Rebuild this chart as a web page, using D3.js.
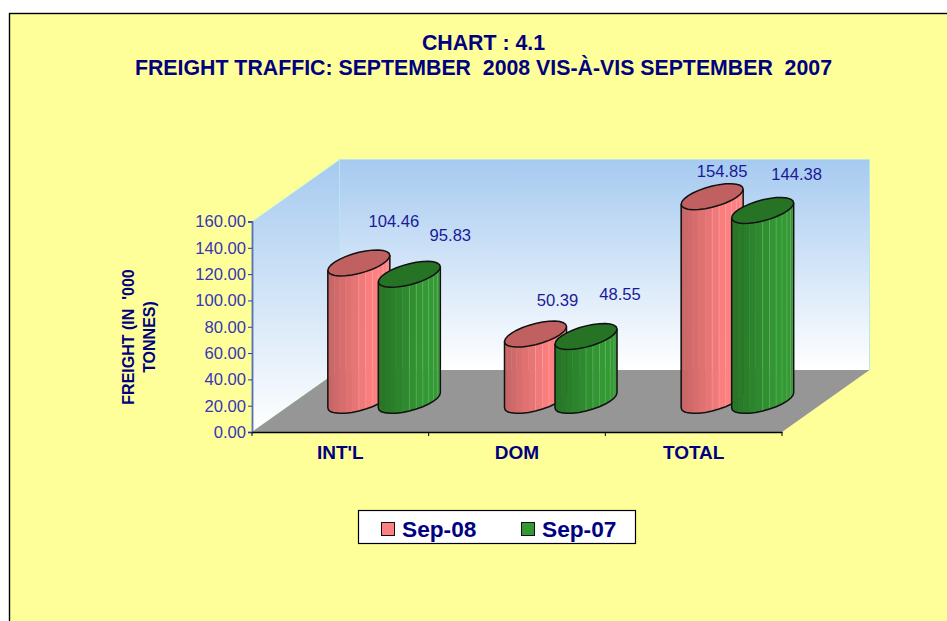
<!DOCTYPE html>
<html>
<head>
<meta charset="utf-8">
<script src="https://cdn.jsdelivr.net/npm/d3@7"></script>
<style>
  html, body { margin: 0; padding: 0; background: #fff; }
  svg { display: block; }
  text { font-family: "Liberation Sans", Arial, sans-serif; fill: #000080; white-space: pre; }
</style>
</head>
<body>
<div id="chart"></div>
<script>
//chart data
var categories = ["INT'L", "DOM", "TOTAL"];
var seriesNames = ["Sep-08", "Sep-07"];
var sep08 = [104.46, 50.39, 154.85];
var sep07 = [95.83, 48.55, 144.38];
var yTicks = [0, 20, 40, 60, 80, 100, 120, 140, 160];
var titleLines = ["CHART : 4.1", "FREIGHT TRAFFIC: SEPTEMBER  2008 VIS-\u00c0-VIS SEPTEMBER  2007"];
var yTitleLines = ["FREIGHT (IN  '000", "TONNES)"];

var svgWidth = 947;
var svgHeight = 621;

//front plane of the 3d box and how far the back wall is shifted from it
var plot = { left: 252, right: 782, top: 221.5, bottom: 432 };
var depth = { x: 87.5, y: -62 };

var svg = d3.select("#chart")
  .append("svg")
  .attr("width", svgWidth)
  .attr("height", svgHeight);

//chart area background
svg.append("rect")
  .attr("x", 9.5)
  .attr("y", 13.5)
  .attr("width", svgWidth)
  .attr("height", svgHeight)
  .attr("fill", "#ffff99")
  .attr("stroke", "#000")
  .attr("stroke-width", 1.4);

//scales
var xScale = d3.scaleBand()
  .domain(categories)
  .range([plot.left, plot.right]);

var yScale = d3.scaleLinear()
  .domain([0, 160])
  .range([plot.bottom, plot.top]);

var seriesScale = d3.scaleBand()
  .domain(seriesNames)
  .range([-50.5, 50.5]);

//gradients
var defs = svg.append("defs");

var wallGrad = defs.append("linearGradient")
  .attr("id", "wallGrad")
  .attr("x1", 0).attr("y1", 0)
  .attr("x2", 0).attr("y2", 1);
wallGrad.append("stop").attr("offset", "0%").attr("stop-color", "#a6caf0");
wallGrad.append("stop").attr("offset", "100%").attr("stop-color", "#ffffff");

//walls and floor
var backLeft = plot.left + depth.x;
var backRight = plot.right + depth.x;
var backTop = plot.top + depth.y;
var backBottom = plot.bottom + depth.y;

svg.append("polygon")
  .attr("points", [[plot.left, plot.top], [backLeft, backTop], [backLeft, backBottom], [plot.left, plot.bottom]].join(" "))
  .attr("fill", "url(#wallGrad)")
  .attr("stroke", "#ccffcc");

svg.append("rect")
  .attr("x", backLeft)
  .attr("y", backTop)
  .attr("width", backRight - backLeft)
  .attr("height", backBottom - backTop)
  .attr("fill", "url(#wallGrad)");

//top edge of the back wall is a bit bluer
svg.append("path")
  .attr("d", `M${backLeft},${backBottom}V${backTop}H${backRight}V${backBottom}`)
  .attr("fill", "none")
  .attr("stroke", "#b8e6f0");

svg.append("polygon")
  .attr("points", [[plot.left, plot.bottom], [plot.right, plot.bottom], [backRight, backBottom], [backLeft, backBottom]].join(" "))
  .attr("fill", "#969696");

//axes
var leftAxis = d3.axisLeft(yScale)
  .tickValues(yTicks)
  .tickFormat(d3.format(".2f"))
  .tickSize(4)
  .tickPadding(2);

var yAxisGroup = svg.append("g")
  .attr("transform", `translate(${plot.left}, 0)`)
  .call(leftAxis);

yAxisGroup.selectAll("line").attr("stroke", "#3333aa");
yAxisGroup.select("path").attr("stroke", "#5a6fb0").attr("stroke-width", 1.8);
yAxisGroup.selectAll("text")
  .attr("font-size", 16.6)
  .style("font-family", '"Liberation Sans", Arial, sans-serif')
  .style("fill", "#3636b8");

var bottomAxis = d3.axisBottom(xScale)
  .tickSize(0)
  .tickPadding(14);

var xAxisGroup = svg.append("g")
  .attr("transform", `translate(0, ${plot.bottom})`)
  .call(bottomAxis);

xAxisGroup.select("path").attr("stroke", "#000").attr("stroke-width", 1.3);
xAxisGroup.selectAll("text")
  .attr("font-size", 19)
  .attr("font-weight", "bold")
  .style("font-family", '"Liberation Sans", Arial, sans-serif')
  .style("fill", "#000080");

//category separators on the bottom axis
var xEdges = [plot.left].concat(categories.map(d => xScale(d) + xScale.bandwidth()));
svg.selectAll(".xEdge")
  .data(xEdges)
  .enter()
  .append("line")
  .attr("class", "xEdge")
  .attr("x1", d => d)
  .attr("x2", d => d)
  .attr("y1", plot.bottom)
  .attr("y2", plot.bottom + 4)
  .attr("stroke", "#000");

//cylinder drawing: the ends are circles lying on the skewed floor
var radiusX = 31;
var radiusY = 13;
var skew = 0.615;
var facets = 14;

function rimPoint(t, cx, cy) {
  return [cx + radiusX * Math.cos(t), cy - radiusY * Math.sin(t + skew)];
}

//front half of the rim runs from the left extreme (t = PI) to the right extreme (t = 2 PI)
function frontAngle(i) {
  return Math.PI + Math.PI * i / facets;
}

var barColors = [
  { dark: "#c46464", light: "#ff8080", top: "#c06060" },
  { dark: "#267326", light: "#339933", top: "#267326" }
];

var lineGen = d3.line();

function drawCylinder(g, cx, value, colors) {
  var baseY = plot.bottom + depth.y * 0.51;
  var topY = baseY - (plot.bottom - yScale(value));
  var shade = d3.scaleLinear()
    .domain([-radiusX, radiusX * 0.45, radiusX])
    .range([colors.dark, colors.light, colors.light]);

  //side facets, left to right
  d3.range(facets).forEach(function(i) {
    var a = rimPoint(frontAngle(i), cx, topY);
    var b = rimPoint(frontAngle(i + 1), cx, topY);
    var c = rimPoint(frontAngle(i + 1), cx, baseY);
    var d = rimPoint(frontAngle(i), cx, baseY);
    g.append("path")
      .attr("d", lineGen([a, b, c, d]) + "Z")
      .attr("fill", shade((a[0] + b[0]) / 2 - cx))
      .attr("stroke", shade((a[0] + b[0]) / 2 - cx))
      .attr("stroke-width", 0.5);
    //faint seam between facets on the lit side
    if (i >= facets / 2) {
      g.append("path")
        .attr("d", lineGen([a, d]))
        .attr("stroke", "#fff")
        .attr("stroke-opacity", 0.18)
        .attr("stroke-width", 1);
    }
  });

  //outline of the side
  var topFront = d3.range(facets + 1).map(i => rimPoint(frontAngle(i), cx, topY));
  var baseFront = d3.range(facets + 1).map(i => rimPoint(frontAngle(i), cx, baseY));
  g.append("path")
    .attr("d", lineGen(baseFront) + `M${topFront[0]}L${baseFront[0]}M${topFront[facets]}L${baseFront[facets]}`)
    .attr("fill", "none")
    .attr("stroke", "#111")
    .attr("stroke-width", 1.5);

  //top end
  var rim = d3.range(facets * 2).map(i => rimPoint(Math.PI * i / facets, cx, topY));
  g.append("path")
    .attr("d", lineGen(rim) + "Z")
    .attr("fill", colors.top)
    .attr("stroke", "#111")
    .attr("stroke-width", 1.5);
}

//bars go from the back of the chart to the front, red before green in each group
var barsGroup = svg.append("g");
categories.forEach(function(cat, i) {
  var center = xScale(cat) + xScale.bandwidth() / 2 + depth.x / 2;
  [sep08, sep07].forEach(function(values, s) {
    var cx = center + seriesScale(seriesNames[s]) + seriesScale.bandwidth() / 2;
    drawCylinder(barsGroup, cx, values[i], barColors[s]);
  });
});

//data labels were dragged by hand in the original, so each one has its own nudge
var labelNudge = [
  [[4, -36.5], [10, -34]],
  [[-9, -29], [3, -37]],
  [[-21, -20], [3, -31]]
];

categories.forEach(function(cat, i) {
  var center = xScale(cat) + xScale.bandwidth() / 2 + depth.x / 2;
  [sep08, sep07].forEach(function(values, s) {
    var cx = center + seriesScale(seriesNames[s]) + seriesScale.bandwidth() / 2;
    var topY = yScale(values[i]) + depth.y / 2;
    svg.append("text")
      .attr("x", cx + labelNudge[i][s][0] + 31)
      .attr("y", topY + labelNudge[i][s][1])
      .attr("text-anchor", "middle")
      .attr("font-size", 16.6)
      .style("fill", "#1a1a99")
      .text(d3.format(".2f")(values[i]));
  });
});

//titles
svg.selectAll(".title")
  .data(titleLines)
  .enter()
  .append("text")
  .attr("class", "title")
  .attr("x", 483.5)
  .attr("y", (d, i) => 50 + i * 25)
  .attr("text-anchor", "middle")
  .attr("font-size", 21.3)
  .attr("font-weight", "bold")
  .text(d => d);

//y axis title
svg.selectAll(".yTitle")
  .data(yTitleLines)
  .enter()
  .append("text")
  .attr("class", "yTitle")
  .attr("transform", (d, i) => `translate(${134 + i * 21}, 337) rotate(-90)`)
  .attr("text-anchor", "middle")
  .attr("font-size", 16)
  .attr("font-weight", "bold")
  .text(d => d);

//legend
var legend = svg.append("g");

legend.append("rect")
  .attr("x", 358.5)
  .attr("y", 510.5)
  .attr("width", 277)
  .attr("height", 33)
  .attr("fill", "#fff")
  .attr("stroke", "#000")
  .attr("stroke-width", 1.2);

var legendX = d3.scalePoint()
  .domain(seriesNames)
  .range([381.5, 521.5]);

legend.selectAll(".swatch")
  .data(seriesNames)
  .enter()
  .append("rect")
  .attr("class", "swatch")
  .attr("x", d => legendX(d))
  .attr("y", 522.5)
  .attr("width", 13)
  .attr("height", 13)
  .attr("fill", (d, i) => barColors[i].light)
  .attr("stroke", "#111");

legend.selectAll(".legendLabel")
  .data(seriesNames)
  .enter()
  .append("text")
  .attr("class", "legendLabel")
  .attr("x", d => legendX(d) + 20.5)
  .attr("y", 537)
  .attr("font-size", 22.7)
  .attr("font-weight", "bold")
  .text(d => d);
</script>
</body>
</html>
